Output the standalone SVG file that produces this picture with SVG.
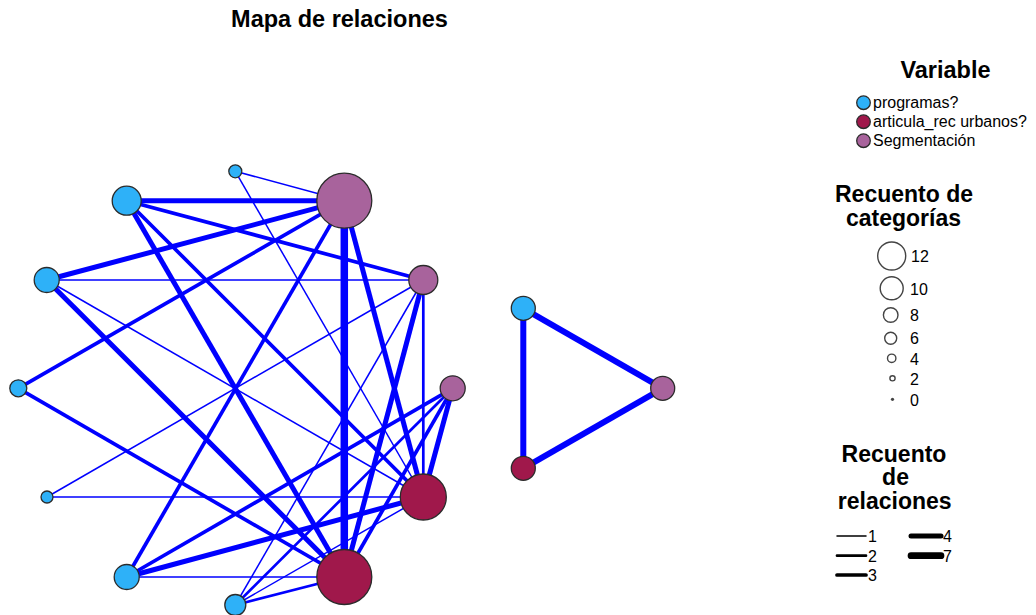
<svg xmlns="http://www.w3.org/2000/svg" width="1036" height="615" viewBox="0 0 1036 615">
<style>
text{font-family:"Liberation Sans",Arial,sans-serif;fill:#000}
.h{font-weight:bold;font-size:23px;text-anchor:middle}
.t{font-size:16px}
.e{stroke:#0000FF;fill:none}
.w1{stroke-width:1.5}.w2{stroke-width:2.7}.w3{stroke-width:3.7}.w4{stroke-width:5}.w7{stroke-width:7.5}.w6{stroke-width:6}
.n{stroke:#2b2b2b;stroke-width:1.3}
.cy{fill:#2EB1F8}.pu{fill:#A8639C}.ma{fill:#A0184B}
.lc{fill:#fff;stroke:#444;stroke-width:1.4}
.ll{stroke:#000;stroke-linecap:round}
</style>
<rect width="1036" height="615" fill="#fff"/>
<text class="h" x="339.5" y="27" style="font-size:23.5px">Mapa de relaciones</text>
<g id="connectors">
<line class="e w1" x1="235.3" y1="171.3" x2="344.3" y2="200.7"/>
<line class="e w1" x1="235.3" y1="171.3" x2="423.3" y2="497"/>
<line class="e w4" x1="126.7" y1="200.7" x2="344.3" y2="200.7"/>
<line class="e w3" x1="126.7" y1="200.7" x2="423.3" y2="280"/>
<line class="e w3" x1="126.7" y1="200.7" x2="423.3" y2="497"/>
<line class="e w4" x1="126.7" y1="200.7" x2="344.3" y2="577"/>
<line class="e w4" x1="46.7" y1="280" x2="344.3" y2="200.7"/>
<line class="e w1" x1="46.7" y1="280" x2="423.3" y2="280"/>
<line class="e w1" x1="46.7" y1="280" x2="423.3" y2="497"/>
<line class="e w4" x1="46.7" y1="280" x2="344.3" y2="577"/>
<line class="e w3" x1="18.3" y1="388.3" x2="344.3" y2="200.7"/>
<line class="e w3" x1="18.3" y1="388.3" x2="344.3" y2="577"/>
<line class="e w1" x1="47" y1="497" x2="423.3" y2="280"/>
<line class="e w1" x1="47" y1="497" x2="423.3" y2="497"/>
<line class="e w3" x1="126.7" y1="577" x2="344.3" y2="200.7"/>
<line class="e w3" x1="126.7" y1="577" x2="452.7" y2="388.3"/>
<line class="e w4" x1="126.7" y1="577" x2="423.3" y2="497"/>
<line class="e w1" x1="126.7" y1="577" x2="344.3" y2="577"/>
<line class="e w1" x1="235.3" y1="605" x2="423.3" y2="280"/>
<line class="e w2" x1="235.3" y1="605" x2="452.7" y2="388.3"/>
<line class="e w1" x1="235.3" y1="605" x2="423.3" y2="497"/>
<line class="e w2" x1="235.3" y1="605" x2="344.3" y2="577"/>
<line class="e w7" x1="344.3" y1="200.7" x2="344.3" y2="577"/>
<line class="e w4" x1="344.3" y1="200.7" x2="423.3" y2="497"/>
<line class="e w2" x1="423.3" y1="280" x2="423.3" y2="497"/>
<line class="e w4" x1="423.3" y1="280" x2="344.3" y2="577"/>
<line class="e w4" x1="452.7" y1="388.3" x2="423.3" y2="497"/>
<line class="e w3" x1="452.7" y1="388.3" x2="344.3" y2="577"/>
<line class="e w6" x1="523.3" y1="308.3" x2="662.7" y2="388.3"/>
<line class="e w6" x1="662.7" y1="388.3" x2="523.3" y2="468.3"/>
<line class="e w6" x1="523.3" y1="308.3" x2="523.3" y2="468.3"/>
</g>
<g id="node-A"><circle class="n cy" cx="235.3" cy="171.3" r="6.5"/></g>
<g id="node-B"><circle class="n cy" cx="126.7" cy="200.7" r="14.5"/></g>
<g id="node-C"><circle class="n pu" cx="344.3" cy="200.7" r="27.5"/></g>
<g id="node-D"><circle class="n cy" cx="46.7" cy="280" r="12.5"/></g>
<g id="node-E"><circle class="n pu" cx="423.3" cy="280" r="14.5"/></g>
<g id="node-F"><circle class="n cy" cx="18.3" cy="388.3" r="8.5"/></g>
<g id="node-G"><circle class="n pu" cx="452.7" cy="388.3" r="12.5"/></g>
<g id="node-H"><circle class="n cy" cx="47" cy="497" r="6"/></g>
<g id="node-I"><circle class="n ma" cx="423.3" cy="497" r="23"/></g>
<g id="node-J"><circle class="n cy" cx="126.7" cy="577" r="12.5"/></g>
<g id="node-K"><circle class="n ma" cx="344.3" cy="577" r="27.5"/></g>
<g id="node-L"><circle class="n cy" cx="235.3" cy="605" r="10.5"/></g>
<g id="node-M"><circle class="n cy" cx="523.3" cy="308.3" r="12"/></g>
<g id="node-N"><circle class="n pu" cx="662.7" cy="388.3" r="12"/></g>
<g id="node-O"><circle class="n ma" cx="523.3" cy="468.3" r="12"/></g>
<g id="legend-variable">
<text class="h" x="945.5" y="77.5" style="font-size:23.5px">Variable</text>
<circle class="n cy" cx="863.5" cy="102.7" r="6.8"/>
<text class="t" x="873" y="108">programas?</text>
<circle class="n ma" cx="863.5" cy="121.7" r="6.8"/>
<text class="t" x="873" y="127">articula_rec urbanos?</text>
<circle class="n pu" cx="863.5" cy="140.7" r="6.8"/>
<text class="t" x="873" y="146">Segmentación</text>
</g>
<g id="legend-categorias">
<text class="h" x="904" y="201.5">Recuento de</text>
<text class="h" x="903.5" y="225.5">categorías</text>
<circle class="lc" cx="891.7" cy="256" r="14"/><text class="t" x="911" y="262">12</text>
<circle class="lc" cx="891.7" cy="288.3" r="11.5"/><text class="t" x="910" y="294.5">10</text>
<circle class="lc" cx="890.7" cy="315" r="7.3"/><text class="t" x="910" y="321">8</text>
<circle class="lc" cx="890.7" cy="338.3" r="6"/><text class="t" x="910" y="344">6</text>
<circle class="lc" cx="891.7" cy="358.3" r="4.2"/><text class="t" x="910" y="364.5">4</text>
<circle class="lc" cx="892.5" cy="378.3" r="2.6"/><text class="t" x="910" y="384.5">2</text>
<circle cx="892.5" cy="399.3" r="1.6" fill="#444"/><text class="t" x="910" y="405.5">0</text>
</g>
<g id="legend-relaciones">
<text class="h" x="894" y="461.5">Recuento</text>
<text class="h" x="895.5" y="485">de</text>
<text class="h" x="894.7" y="508.5">relaciones</text>
<line class="ll" x1="837" y1="536" x2="866" y2="536" stroke-width="1.5"/><text class="t" x="868" y="542">1</text>
<line class="ll" x1="837" y1="555.7" x2="866" y2="555.7" stroke-width="2.7"/><text class="t" x="868" y="561.5">2</text>
<line class="ll" x1="837" y1="575" x2="866" y2="575" stroke-width="3.7"/><text class="t" x="868" y="581">3</text>
<line class="ll" x1="911" y1="536" x2="941" y2="536" stroke-width="5"/><text class="t" x="943" y="542">4</text>
<line class="ll" x1="911" y1="555.7" x2="941" y2="555.7" stroke-width="6.7"/><text class="t" x="943" y="561.5">7</text>
</g>
</svg>
